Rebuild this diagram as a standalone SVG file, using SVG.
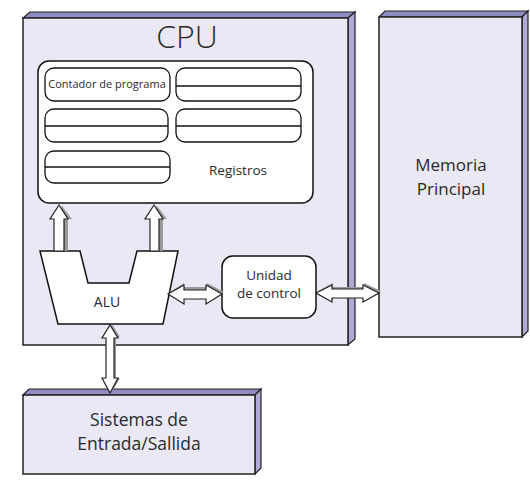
<svg xmlns="http://www.w3.org/2000/svg" width="530" height="480" viewBox="0 0 530 480">
<style>
.face{fill:#e9e8f4;stroke:#222;stroke-width:1.5}
.top{fill:#8e8cc0;stroke:#222;stroke-width:1.2}
.side{fill:#aeaad6;stroke:#222;stroke-width:1.2}
.wbox{fill:#fff;stroke:#111;stroke-width:1.5}
.cell{fill:#fff;stroke:#111;stroke-width:1.3}
.ln{stroke:#111;stroke-width:1.3}
.arr{fill:#fff;stroke:#222;stroke-width:1.2;stroke-linejoin:miter}
.sh{fill:#999;stroke:none}
text{font-family:"Open Sans","Noto Sans","DejaVu Sans",sans-serif;fill:#2a2a2a;text-anchor:middle}
</style>
<rect width="530" height="480" fill="#fff"/>
<g id="cpu">
<polygon class="top" points="23,18 30,12 355,12 348,18"/>
<polygon class="side" points="348,18 355,12 355,339 348,345"/>
<rect class="face" x="23" y="18" width="325" height="327"/>
<text x="187" y="48" font-size="32" font-weight="300">CPU</text>
</g>
<g id="registros">
<rect class="wbox" x="38" y="61" width="275" height="142" rx="11"/>
<rect class="cell" x="45" y="68" width="125" height="33" rx="9"/>
<text x="107" y="88" font-size="11">Contador de programa</text>
<rect class="cell" x="176" y="68" width="125" height="33" rx="9"/>
<line class="ln" x1="176" y1="86" x2="301" y2="86"/>
<rect class="cell" x="45" y="109" width="123" height="33" rx="9"/>
<line class="ln" x1="45" y1="126" x2="168" y2="126"/>
<rect class="cell" x="176" y="109" width="125" height="33" rx="9"/>
<line class="ln" x1="176" y1="126" x2="301" y2="126"/>
<rect class="cell" x="45" y="151" width="125" height="32" rx="9"/>
<line class="ln" x1="45" y1="167" x2="170" y2="167"/>
<text x="238" y="175" font-size="13.5">Registros</text>
</g>
<g id="alu">
<polygon class="wbox" points="40,251 80,251 88,283 129,283 137,251 178,251 163,324 58,324"/>
<text x="107" y="307" font-size="14">ALU</text>
</g>
<g id="unidad">
<rect class="wbox" x="222" y="256" width="94" height="62" rx="11"/>
<text x="269" y="280" font-size="13.5">Unidad</text>
<text x="269" y="298" font-size="13.5">de control</text>
</g>
<g id="memoria">
<polygon class="top" points="379,17 385,11 528,11 522,17"/>
<polygon class="side" points="522,17 528,11 528,331 522,337"/>
<rect class="face" x="379" y="17" width="143" height="320"/>
<text x="451" y="171" font-size="17">Memoria</text>
<text x="451" y="195" font-size="17">Principal</text>
</g>
<g id="es">
<polygon class="top" points="23,395 29,389 261,389 255,395"/>
<polygon class="side" points="255,395 261,389 261,468 255,474"/>
<rect class="face" x="23" y="395" width="232" height="79"/>
<text x="139" y="426" font-size="17.5">Sistemas de</text>
<text x="139" y="450" font-size="17.5">Entrada/Sallida</text>
</g>
<g id="connectors">
<polygon class="sh" points="62,206 72,219 68,219 68,251 57,251 57,219 53,219"/>
<polygon class="arr" points="59,205 68,219 64,219 64,251 54,251 54,219 50,219"/>
<polygon class="sh" points="157,206 167,219 163,219 163,251 152,251 152,219 148,219"/>
<polygon class="arr" points="154,205 163,219 159,219 159,251 150,251 150,219 145,219"/>
<polygon class="sh" points="170,292 184,283 184,287 207,287 207,283 224,292 207,302 207,297 184,297 184,302"/>
<polygon class="arr" points="168,294 184,285 184,290 206,290 206,285 222,294 206,304 206,299 184,299 184,304"/>
<polygon class="sh" points="318,291 333,283 333,287 364,287 364,283 381,291 364,300 364,296 333,296 333,300"/>
<polygon class="arr" points="316,293 332,285 332,289 363,289 363,285 379,293 363,302 363,298 332,298 332,302"/>
<polygon class="sh" points="112,324 120,337 116,337 116,378 120,378 112,392 104,378 108,378 108,337 104,337"/>
<polygon class="arr" points="110,325 118,338 114,338 114,378 118,378 110,393 102,378 106,378 106,338 102,338"/>
</g>
</svg>
